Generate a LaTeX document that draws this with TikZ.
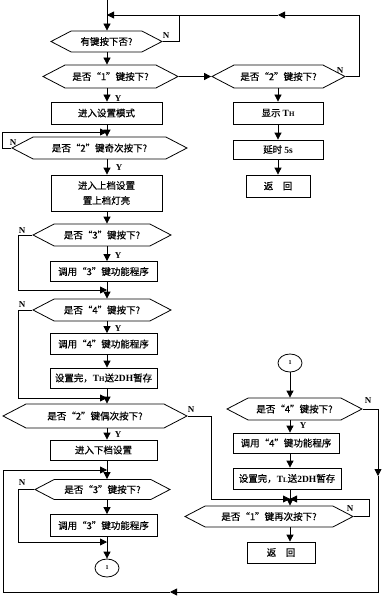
\documentclass[tikz,border=0pt]{standalone}
\usepackage{fontspec}
\setmainfont{Liberation Serif}
\newfontfamily\cjk[FakeBold=0.5]{Noto Sans CJK SC}
\usetikzlibrary{shapes.symbols,shapes.geometric,arrows.meta}

\tikzset{
  box/.style={draw, line width=0.8pt, inner sep=0pt, align=center,
    font=\cjk\fontsize{9.5}{15}\selectfont},
  hexbox/.style={box, signal, signal to=east and west, signal pointer angle=55},
  ring/.style={draw, ellipse, line width=0.8pt, inner sep=0pt,
    minimum width=24, minimum height=18, font=\rmfamily\bfseries\fontsize{6}{6}\selectfont},
  arr/.style={line width=0.8pt, -{Triangle[length=7pt,width=7pt]}},
  lab/.style={font=\rmfamily\bfseries\fontsize{9}{9}\selectfont, inner sep=0pt}
}
\newcommand{\sub}[1]{{\rmfamily\bfseries #1}}

\begin{document}
\begin{tikzpicture}[x=1pt, y=-1pt]
    \useasboundingbox (0,0) rectangle (387,599);

    % 主线
    \coordinate (axl) at (107,0);
    \coordinate (axr) at (278,0);
    \coordinate (axd) at (290,0);
    \coordinate (j0) at (107,15);
    \coordinate (a1) at (278,15);
    \coordinate (j1) at (107,132);
    \coordinate (j2) at (107,290);
    \coordinate (j3) at (107,398);
    \coordinate (j4) at (107,470);
    \coordinate (j6) at (107,542);
    \coordinate (j5) at (290,499);

    % 左列
    \node[hexbox, minimum width=111, minimum height=21] (k1) at (106.5,41.5) {有键按下否?};
    \node[hexbox, minimum width=135, minimum height=23] (k2) at (110.5,76.5) {是否“1”键按下?};
    \node[box, minimum width=111, minimum height=22] (b1) at (106.5,113) {进入设置模式};
    \node[hexbox, minimum width=175, minimum height=22] (k3) at (99.5,148) {是否“2”键奇次按下?};
    \node[box, minimum width=111, minimum height=36] (b2) at (106.5,193) {进入上档设置\\置上档灯亮};
    \node[hexbox, minimum width=138, minimum height=22] (k4) at (102,235) {是否“3”键按下?};
    \node[box, minimum width=107, minimum height=20] (b3) at (103.5,271.5) {调用“3”键功能程序};
    \node[hexbox, minimum width=138, minimum height=22] (k5) at (102,310) {是否“4”键按下?};
    \node[box, minimum width=107, minimum height=21] (b4) at (103.5,344) {调用“4”键功能程序};
    \node[box, minimum width=107, minimum height=20] (b5) at (103.5,378) {设置完，\sub{T{\fontsize{7}{7}\selectfont H}}送\sub{2DH}暂存};
    \node[hexbox, minimum width=184, minimum height=24] (k6) at (95,416) {是否“2”键偶次按下?};
    \node[box, minimum width=107, minimum height=20] (b6) at (103.5,450) {进入下档设置};
    \node[hexbox, minimum width=135, minimum height=20] (k7) at (102.5,489.5) {是否“3”键按下?};
    \node[box, minimum width=107, minimum height=22] (b7) at (103.5,525.5) {调用“3”键功能程序};
    \node[ring] (c1) at (107,568) {1};

    % 右列
    \node[hexbox, minimum width=133, minimum height=23] (k2r) at (278.5,76.5) {是否“2”键按下?};
    \node[box, minimum width=90, minimum height=22] (r1) at (278,113) {显示 \sub{T{\fontsize{7}{7}\selectfont H}}};
    \node[box, minimum width=90, minimum height=19] (r2) at (278,149.5) {延时 \sub{5s}};
    \node[box, minimum width=64, minimum height=22] (r3) at (278,186) {返\quad 回};
    \node[ring] (c2) at (290,363) {1};
    \node[hexbox, minimum width=135, minimum height=22] (k8) at (294.5,409) {是否“4”键按下?};
    \node[box, minimum width=106, minimum height=20] (b8) at (286,443) {调用“4”键功能程序};
    \node[box, minimum width=108, minimum height=21] (b9) at (287,478.5) {设置完，\sub{T{\fontsize{7}{7}\selectfont L}}送\sub{2DH}暂存};
    \node[hexbox, minimum width=168, minimum height=21] (k9) at (269,516.5) {是否“1”键再次按下?};
    \node[box, minimum width=68, minimum height=21] (r4) at (281,552.5) {返\quad 回};

    % Y / N 标注
    \node[lab] (n1) at (166,36) {N};
    \node[lab] (n2) at (340,71) {N};
    \node[lab] (y1) at (118,99) {Y};
    \node[lab] (n3) at (13,143) {N};
    \node[lab] (y2) at (119,168) {Y};
    \node[lab] (n4) at (22,231) {N};
    \node[lab] (y3) at (118,256) {Y};
    \node[lab] (n5) at (22,305) {N};
    \node[lab] (y4) at (118,329) {Y};
    \node[lab] (n6) at (191,410) {N};
    \node[lab] (y5) at (118,435) {Y};
    \node[lab] (n7) at (22,483) {N};
    \node[lab] (n8) at (368,401) {N};
    \node[lab] (y6) at (303,426) {Y};
    \node[lab] (n9) at (350,509) {N};

    % 左列连线
    \draw[arr] (axl) -- (axl |- k1.north);
    \draw[arr] (k1.east) -- ++(17,0) |- (j0);
    \draw[arr] (k2r.east) -- ++(14,0) |- (a1);
    \draw[line width=0.8pt] (a1) -- (j0);
    \draw[arr] (axl |- k1.south) -- (axl |- k2.north);
    \draw[arr] (k2.east) -- (k2r.west);
    \draw[arr] (axl |- k2.south) -- (axl |- b1.north);
    \draw[arr] (axl |- b1.south) -- (axl |- k3.north);
    \draw[arr] (k3.west) -- ++(-9,0) |- (j1);
    \draw[arr] (axl |- k3.south) -- (axl |- b2.north);
    \draw[arr] (axl |- b2.south) -- (axl |- k4.north);
    \draw[arr] (k4.west) -- ++(-14,0) |- (j2);
    \draw[arr] (axl |- k4.south) -- (axl |- b3.north);
    \draw[arr] (axl |- b3.south) -- (axl |- k5.north);
    \draw[arr] (k5.west) -- ++(-14,0) |- (j3);
    \draw[arr] (axl |- k5.south) -- (axl |- b4.north);
    \draw[arr] (axl |- b4.south) -- (axl |- b5.north);
    \draw[arr] (axl |- b5.south) -- (axl |- k6.north);
    \draw[arr] (k6.east) -- ++(24,0) |- (j5);
    \draw[arr] (axl |- k6.south) -- (axl |- b6.north);
    \draw[arr] (axl |- b6.south) -- (axl |- k7.north);
    \draw[arr] (k7.west) -- ++(-16,0) |- (j6);
    \draw[arr] (axl |- k7.south) -- (axl |- b7.north);
    \draw[arr] (axl |- b7.south) -- (c1.north);

    % 右列连线
    \draw[arr] (axr |- k2r.south) -- (axr |- r1.north);
    \draw[arr] (r1.south) -- (r2.north);
    \draw[arr] (r2.south) -- (r3.north);
    \draw[arr] (c2.south) -- (axd |- k8.north);
    \draw[arr] (axd |- k8.south) -- (axd |- b8.north);
    \draw[arr] (axd |- b8.south) -- (axd |- b9.north);
    \draw[arr] (axd |- b9.south) -- (axd |- k9.north);
    \draw[arr] (k9.east) -- ++(16,0) |- (j5);
    \draw[arr] (axd |- k9.south) -- (axd |- r4.north);

    % 外回路
    \coordinate (m1) at (378,476);
    \coordinate (m2) at (170,592);
    \coordinate (m3) at (3,592);
    \draw[arr] (k8.east) -| (m1);
    \draw[arr] (m1) |- (m2);
    \draw[arr] (m2) -- (m3) |- (j4);

\end{tikzpicture}
\end{document}
